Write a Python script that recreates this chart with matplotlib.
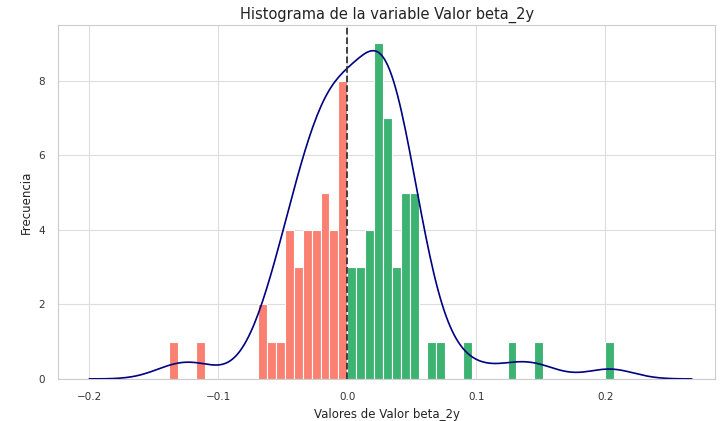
import matplotlib

matplotlib.use("Agg")
import matplotlib.pyplot as plt
import numpy as np
import seaborn as sns

# histograma: 50 bins entre el mínimo y el máximo de la variable
x_min = -0.138
x_max = 0.207
counts = [
    1, 0, 0, 1, 0, 0, 0, 0, 0, 0,
    2, 1, 1, 4, 3, 4, 4, 5, 4, 8,
    3, 3, 4, 9, 7, 3, 5, 5, 0, 1,
    1, 0, 0, 1, 0, 0, 0, 0, 1, 0,
    0, 1, 0, 0, 0, 0, 0, 0, 0, 1,
]
xticks = [-0.2, -0.1, 0.0, 0.1, 0.2]
yticks = [0, 2, 4, 6, 8]
kde_lo, kde_hi = -0.2, 0.267
kde_bw_adjust = 0.9
kde_scale = 1.74  # la curva original está escalada por encima de n * ancho_bin

sns.set_theme(style="whitegrid")
plt.rcParams["font.family"] = ["DejaVu Sans"]

edges = np.linspace(x_min, x_max, len(counts) + 1)
width = edges[1] - edges[0]
centers = edges[:-1] + width / 2
counts = np.array(counts)
colors = ["#fa8072" if c < 0 else "#3cb371" for c in centers]

fig = plt.figure(figsize=(7.2, 4.21), dpi=100)
ax = fig.add_axes([0.081, 0.100, 0.912, 0.841])

ax.bar(edges[:-1], counts, width=width, align="edge", color=colors,
       edgecolor="white", linewidth=0.8)

# KDE (gaussiana, regla de Scott) escalada a frecuencias
sample = np.repeat(centers, counts)
n = len(sample)
bw = sample.std(ddof=1) * n ** (-1 / 5) * kde_bw_adjust
grid = np.linspace(kde_lo, kde_hi, 300)
dens = np.exp(-0.5 * ((grid[:, None] - sample[None, :]) / bw) ** 2).sum(axis=1)
dens /= n * bw * np.sqrt(2 * np.pi)
ax.plot(grid, dens * n * width * kde_scale, color="navy", linewidth=1.2)

ax.axvline(0, color="#333333", linestyle="--", linewidth=1.3)

ax.set_xticks(xticks)
ax.set_yticks(yticks)
ax.set_xlim(-0.224, 0.285)
ax.set_ylim(0, 9.5)
ax.grid(color="#dddddd", linewidth=0.8)
for s in ax.spines.values():
    s.set_color("#cccccc")
    s.set_linewidth(0.8)
ax.tick_params(labelsize=7.5, colors="#333333")
ax.set_title("Histograma de la variable Valor beta_2y", fontsize=10.5, pad=4, color="#222222")
ax.set_xlabel("Valores de Valor beta_2y", fontsize=8.5, color="#222222")
ax.set_ylabel("Frecuencia", fontsize=8.5, color="#222222")

fig.savefig("out.png", dpi=100)
